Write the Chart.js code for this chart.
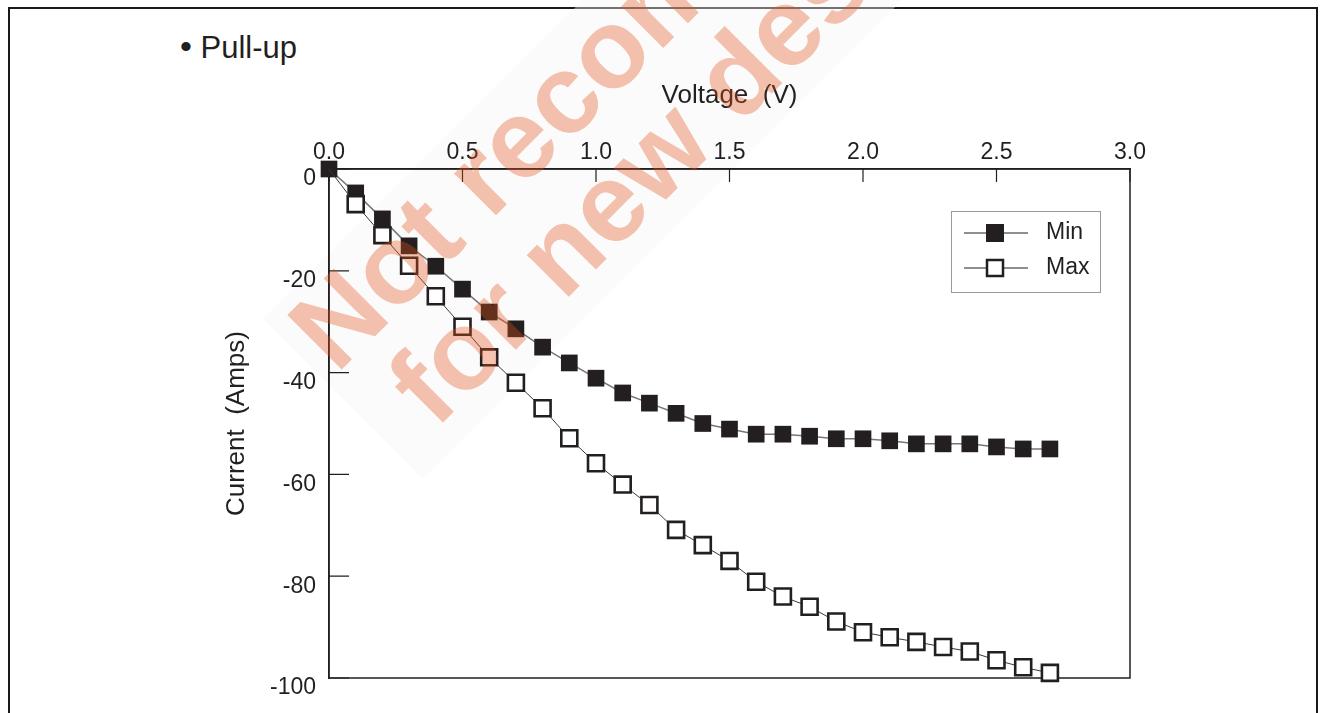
<!DOCTYPE html>
<html>
<head>
<meta charset="utf-8">
<script src="https://cdn.jsdelivr.net/npm/chart.js@4.4.0/dist/chart.umd.min.js"></script>
<style>
  html, body { margin: 0; padding: 0; background: #fff; overflow: hidden; }
  body { width: 1324px; height: 713px; position: relative; font-family: "Liberation Sans", Arial, sans-serif; }
  .frame { position: absolute; left: 8px; top: 7px; width: 1306px; height: 800px; border: 2.5px solid #1a1a1a; }
  .title { position: absolute; left: 180px; top: 31px; font-size: 31px; line-height: 31px; color: #231f20; white-space: pre; }
  .title span { font-size: 34px; }
  #band, #mark { position: absolute; left: 0; top: 0; pointer-events: none; }
  #band { z-index: 1; }
  #myChart { position: absolute; left: 0; top: 0; z-index: 2; }
  #mark { z-index: 3; opacity: 0.35; }
</style>
</head>
<body>
<div class="frame"></div>
<div class="title"><span>•</span> Pull-up</div>
<svg id="band" width="1324" height="713">
  <g transform="rotate(-45)">
    <rect x="-40" y="412" width="1500" height="226" fill="rgba(246,246,246,0.4)"></rect>
  </g>
</svg>
<canvas id="myChart" width="1324" height="713"></canvas>
<svg id="mark" width="1324" height="713">
  <g transform="rotate(-45)" font-family="Liberation Sans, Arial, sans-serif" font-weight="bold" font-size="112" fill="rgb(226,83,26)">
    <text x="-27" y="503">Not recommended</text>
    <text x="4" y="612">for new designs</text>
  </g>
</svg>
<script>
// voltage steps (V) and measured current for both curves
const voltage = [0.0, 0.1, 0.2, 0.3, 0.4, 0.5, 0.6, 0.7, 0.8, 0.9, 1.0, 1.1, 1.2, 1.3,
                 1.4, 1.5, 1.6, 1.7, 1.8, 1.9, 2.0, 2.1, 2.2, 2.3, 2.4, 2.5, 2.6, 2.7];
const minCurrent = [0, -4.7, -9.8, -15.1, -19.1, -23.6, -28.1, -31.4, -35.0, -38.1, -41.1, -44.0, -46.0, -48.0,
                    -50.0, -51.1, -52.1, -52.1, -52.5, -53.0, -53.0, -53.4, -54.0, -54.0, -54.0, -54.6, -55.0, -55.0];
const maxCurrent = [0, -6.9, -13.0, -19.0, -25.0, -31.0, -37.0, -42.0, -47.0, -52.9, -57.8, -62.0, -66.0, -70.9,
                    -73.9, -77.0, -81.1, -84.0, -86.0, -88.9, -91.0, -92.0, -92.9, -93.9, -94.8, -96.5, -97.9, -99.0];
const xTicks = [0.0, 0.5, 1.0, 1.5, 2.0, 2.5, 3.0];
const yTicks = [0, -20, -40, -60, -80, -100];
const seriesNames = ['Min', 'Max'];

const ink = '#231f20';
Chart.defaults.font.family = "'Liberation Sans', Arial, sans-serif";
Chart.defaults.color = ink;

// frame round the plot + ticks pointing inward
const boxAndTicks = {
    id: 'boxAndTicks',
    beforeDatasetsDraw(chart) {
        const { ctx, chartArea: a, scales } = chart;
        ctx.save();
        ctx.strokeStyle = ink;
        ctx.lineWidth = 1.5;
        ctx.strokeRect(a.left, a.top, a.right - a.left, a.bottom - a.top);
        ctx.lineWidth = 1.2;
        ctx.beginPath();
        scales.x.ticks.forEach(t => {
            const x = scales.x.getPixelForValue(t.value);
            ctx.moveTo(x, a.top);
            ctx.lineTo(x, a.top + 13);
        });
        scales.y.ticks.forEach(t => {
            const y = scales.y.getPixelForValue(t.value);
            ctx.moveTo(a.left, y);
            ctx.lineTo(a.left + 20, y);
        });
        ctx.stroke();
        ctx.restore();
    }
};

// legend box inside the plot, upper right
const boxLegend = {
    id: 'boxLegend',
    afterDraw(chart) {
        const { ctx, chartArea: a } = chart;
        const left = a.right - 179, top = a.top + 42;
        ctx.save();
        ctx.strokeStyle = '#9a9a9a';
        ctx.lineWidth = 1;
        ctx.strokeRect(left + 0.5, top + 0.5, 149, 81);
        seriesNames.forEach((name, i) => {
            const y = top + 22 + i * 35;
            const mx = left + 44;
            ctx.strokeStyle = ink;
            ctx.lineWidth = 1;
            ctx.beginPath();
            ctx.moveTo(left + 13, y);
            ctx.lineTo(left + 77, y);
            ctx.stroke();
            if (i === 0) {
                ctx.fillStyle = ink;
                ctx.fillRect(mx - 9, y - 9, 18, 18);
            } else {
                ctx.fillStyle = '#fff';
                ctx.fillRect(mx - 8, y - 8, 16, 16);
                ctx.lineWidth = 2.5;
                ctx.strokeRect(mx - 8, y - 8, 16, 16);
            }
            ctx.fillStyle = ink;
            ctx.font = "23px 'Liberation Sans', Arial, sans-serif";
            ctx.textBaseline = 'middle';
            ctx.fillText(name, left + 95, y);
        });
        ctx.restore();
    }
};

const ctx = document.getElementById('myChart').getContext('2d');
new Chart(ctx, {
    type: 'line',
    data: {
        datasets: [{
            label: seriesNames[1],
            data: voltage.map((v, i) => ({ x: v, y: maxCurrent[i] })),
            order: 0,
            borderColor: '#3a3a3a',
            borderWidth: 1,
            pointStyle: 'rect',
            pointRadius: voltage.map((v, i) => i === 0 ? 0 : 11.3),
            pointBackgroundColor: '#fff',
            pointBorderColor: ink,
            pointBorderWidth: 2.6,
            clip: false
        }, {
            label: seriesNames[0],
            data: voltage.map((v, i) => ({ x: v, y: minCurrent[i] })),
            order: 1,
            borderColor: '#777',
            borderWidth: 1.5,
            pointStyle: 'rect',
            pointRadius: 11.8,
            pointBackgroundColor: ink,
            pointBorderColor: ink,
            pointBorderWidth: 0,
            clip: false
        }]
    },
    options: {
        responsive: false,
        animation: false,
        devicePixelRatio: 1,
        layout: { padding: { left: 200, top: 60, right: 194, bottom: 35 } },
        plugins: {
            legend: { display: false },
            tooltip: { enabled: false }
        },
        scales: {
            x: {
                type: 'linear',
                position: 'top',
                min: 0,
                max: 3,
                afterBuildTicks: s => { s.ticks = xTicks.map(v => ({ value: v })); },
                afterFit: s => { s.height = 109; },
                grid: { drawOnChartArea: false, drawTicks: false },
                border: { color: ink, width: 1.5 },
                ticks: {
                    padding: 3,
                    autoSkip: false,
                    maxRotation: 0,
                    font: { size: 23 },
                    callback: v => Number(v).toFixed(1)
                },
                title: {
                    display: true,
                    text: 'Voltage  (V)',
                    font: { size: 26 },
                    padding: { top: 20, bottom: 0 }
                }
            },
            y: {
                type: 'linear',
                position: 'left',
                min: -100,
                max: 0,
                afterBuildTicks: s => { s.ticks = yTicks.map(v => ({ value: v })); },
                afterFit: s => { s.width = 129; },
                grid: { drawOnChartArea: false, drawTicks: false },
                border: { color: ink, width: 1.5 },
                ticks: {
                    padding: 13,
                    labelOffset: 10,
                    autoSkip: false,
                    font: { size: 23 },
                    callback: v => String(v)
                },
                title: {
                    display: true,
                    text: 'Current  (Amps)',
                    font: { size: 26 },
                    padding: { top: 21, bottom: 0 }
                }
            }
        }
    },
    plugins: [boxAndTicks, boxLegend]
});
</script>
</body>
</html>
